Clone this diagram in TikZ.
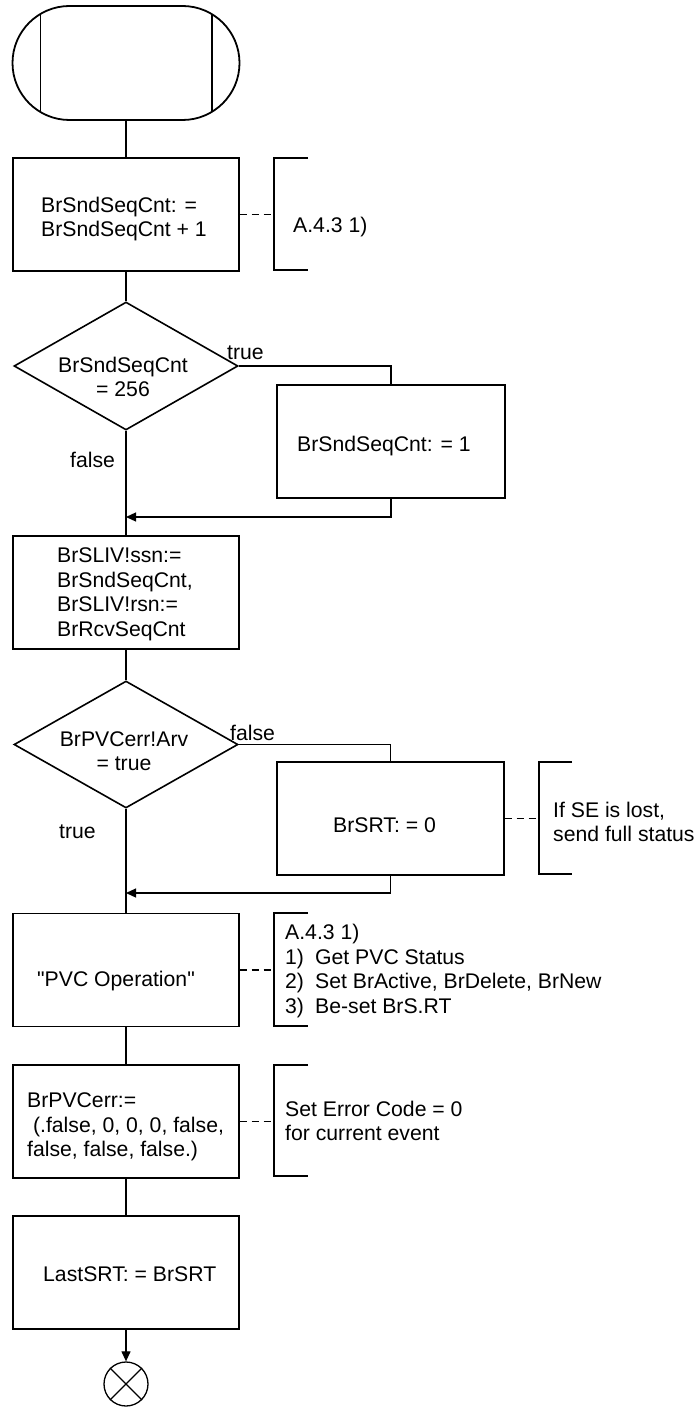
\documentclass[tikz,border=0pt]{standalone}
\usepackage{fontspec}
\setmainfont{Liberation Sans}
\usetikzlibrary{shapes.geometric,shapes.misc,arrows.meta}
\begin{document}
\begin{tikzpicture}[x=1pt,y=-1pt,
  every node/.style={font=\fontsize{21.2}{24.5}\selectfont, inner sep=0pt},
  procbox/.style={draw, line width=1.3pt, minimum width=226pt, minimum height=113pt},
  decision/.style={draw, diamond, line width=1.6pt, minimum width=224pt, minimum height=128pt, inner sep=0pt},
  txt/.style={anchor=base west, align=left},
  ctxt/.style={anchor=base, align=center},
  flow/.style={line width=1.2pt},
  flowarrow/.style={line width=1.2pt, -{Triangle[length=10pt,width=9pt]}},
  note/.style={line width=1.2pt},
  notelink/.style={line width=1.2pt, dash pattern=on 7pt off 5pt},
]
\fill[white] (0,0) rectangle (698,1407);
\useasboundingbox (0,0) rectangle (698,1407);

% start terminator
\node[draw, rounded rectangle, line width=1.8pt, minimum width=227pt, minimum height=114pt] (start) at (126,63) {};
\draw[line width=1.5pt] (40.5,14) -- (40.5,112) (212,14.2) -- (212,111.8);

% box 1
\node[procbox] (b1) at (126,214.5) {};
\node[txt] (b1t) at (41,236.5) {BrSndSeqCnt: =\\BrSndSeqCnt + 1};
\draw[note] (308,158) -- (274,158) -- (274,270) -- (308,270);
\coordinate (c1) at (274,214.5);
\node[txt] (c1t) at (293,232.5) {A.4.3 1)};

% decision 1
\node[decision] (d1) at (126,366) {};
\node[ctxt] (d1t) at (123,396.5) {BrSndSeqCnt\\= 256};
\node[txt] (d1y) at (227,359.5) {true};
\node[txt] (d1n) at (70,467.5) {false};

\node[procbox, minimum width=228pt] (b2) at (391,441.5) {};
\node[txt] (b2t) at (297,451.5) {BrSndSeqCnt: = 1};
\coordinate (j1) at (126,517);

% SLIV
\node[procbox] (sliv) at (126,592.5) {};
\node[txt] (slivt) at (57,636) {BrSLIV!ssn:=\\BrSndSeqCnt,\\BrSLIV!rsn:=\\BrRcvSeqCnt};

% decision 2
\node[decision, minimum height=127pt] (d2) at (126,744.5) {};
\node[ctxt] (d2t) at (124,770.5) {BrPVCerr!Arv\\= true};
\node[txt] (d2n) at (230,740.5) {false};
\node[txt] (d2y) at (59,838.5) {true};

\node[procbox, minimum width=227pt] (b3) at (390.5,818.5) {};
\node[txt] (b3t) at (333,832.5) {BrSRT: = 0};
\draw[note] (572,762) -- (539,762) -- (539,874) -- (572,874);
\coordinate (c2) at (539,818.5);
\node[txt] (c2t) at (553,841.5) {If SE is lost,\\send full status};
\coordinate (j2) at (126,893);

% PVC operation
\node[procbox] (pvc) at (126,970) {};
\node[txt] (pvct) at (37,986.5) {\textquotedbl PVC Operation\textquotedbl};
\draw[note] (308,913) -- (274,913) -- (274,1026) -- (308,1026);
\coordinate (c3) at (274,970);
\node[txt] (c3t) at (285,1013) {A.4.3 1)\\\makebox[30pt][l]{1)}Get PVC Status\\\makebox[30pt][l]{2)}Set BrActive, BrDelete, BrNew\\\makebox[30pt][l]{3)}Be-set BrS.RT};

% BrPVCerr
\node[procbox] (err) at (126,1121.5) {};
\node[txt] (errt) at (27,1156.5) {BrPVCerr:=\\\hspace*{5.9pt}(.false, 0, 0, 0, false,\\false, false, false.)};
\draw[note] (308,1065) -- (274,1065) -- (274,1176) -- (308,1176);
\coordinate (c4) at (274,1121.5);
\node[txt] (c4t) at (285,1140.5) {Set Error Code = 0\\for current event};

% LastSRT
\node[procbox] (last) at (126,1272.5) {};
\node[txt] (lastt) at (43,1281.5) {LastSRT: = BrSRT};

% end connector
\node[draw, circle, line width=1.3pt, minimum size=44pt] (stop) at (126,1384) {};
\draw[line width=1.3pt] (stop.north west) -- (stop.south east) (stop.north east) -- (stop.south west);

% connectors
\draw[flow] (start.south) -- (b1.north);
\draw[notelink] (b1.east) -- (c1);
\draw[flow] (b1.south) -- (d1.north);
\draw[flow] (d1.east) -| (b2.north);
\draw[flow] (d1.south) -- (sliv.north);
\draw[flowarrow] (b2.south) |- (j1);
\draw[flow] (sliv.south) -- (d2.north);
\draw[flow] (d2.east) -| (b3.north);
\draw[notelink] (b3.east) -- (c2);
\draw[flow] (d2.south) -- (pvc.north);
\draw[flowarrow] (b3.south) |- (j2);
\draw[notelink] (pvc.east) -- (c3);
\draw[flow] (pvc.south) -- (err.north);
\draw[notelink] (err.east) -- (c4);
\draw[flow] (err.south) -- (last.north);
\draw[flowarrow] (last.south) -- (stop.north);
\end{tikzpicture}
\end{document}
